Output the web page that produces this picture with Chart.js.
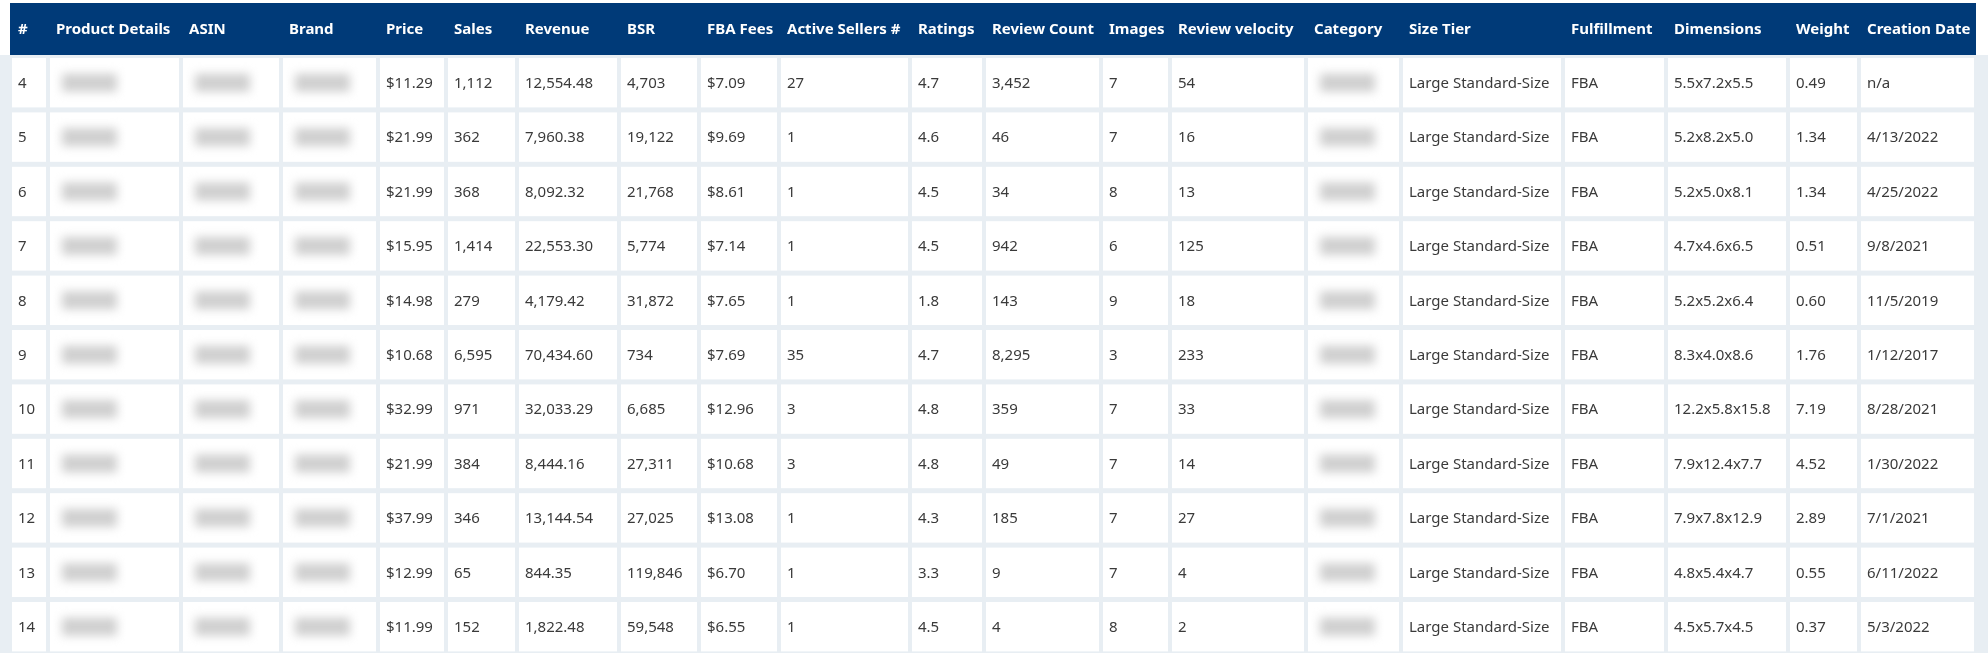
<!DOCTYPE html>
<html><head><meta charset="utf-8">
<script src="https://cdn.jsdelivr.net/npm/chart.js@4"></script>
<style>body{margin:0;background:#fff}canvas{display:block}</style>
</head><body><canvas id="c" width="1988" height="653"></canvas>
<script>
const headers = ['#','Product Details','ASIN','Brand','Price','Sales','Revenue','BSR','FBA Fees','Active Sellers #','Ratings','Review Count','Images','Review velocity','Category','Size Tier','Fulfillment','Dimensions','Weight','Creation Date'];
const rowIds = ['4','5','6','7','8','9','10','11','12','13','14'];
const prices = ['$11.29','$21.99','$21.99','$15.95','$14.98','$10.68','$32.99','$21.99','$37.99','$12.99','$11.99'];
const sales = ['1,112','362','368','1,414','279','6,595','971','384','346','65','152'];
const revenue = ['12,554.48','7,960.38','8,092.32','22,553.30','4,179.42','70,434.60','32,033.29','8,444.16','13,144.54','844.35','1,822.48'];
const bsr = ['4,703','19,122','21,768','5,774','31,872','734','6,685','27,311','27,025','119,846','59,548'];
const fbaFees = ['$7.09','$9.69','$8.61','$7.14','$7.65','$7.69','$12.96','$10.68','$13.08','$6.70','$6.55'];
const sellers = ['27','1','1','1','1','35','3','3','1','1','1'];
const ratings = ['4.7','4.6','4.5','4.5','1.8','4.7','4.8','4.8','4.3','3.3','4.5'];
const reviewCount = ['3,452','46','34','942','143','8,295','359','49','185','9','4'];
const images = ['7','7','8','6','9','3','7','7','7','7','8'];
const reviewVelocity = ['54','16','13','125','18','233','33','14','27','4','2'];
const sizeTier = Array(11).fill('Large Standard-Size');
const fulfillment = Array(11).fill('FBA');
const dimensions = ['5.5x7.2x5.5','5.2x8.2x5.0','5.2x5.0x8.1','4.7x4.6x6.5','5.2x5.2x6.4','8.3x4.0x8.6','12.2x5.8x15.8','7.9x12.4x7.7','7.9x7.8x12.9','4.8x5.4x4.7','4.5x5.7x4.5'];
const weight = ['0.49','1.34','1.34','0.51','0.60','1.76','7.19','4.52','2.89','0.55','0.37'];
const creationDate = ['n/a','4/13/2022','4/25/2022','9/8/2021','11/5/2019','1/12/2017','8/28/2021','1/30/2022','7/1/2021','6/11/2022','5/3/2022'];
const blurred = null; // hidden columns: product, ASIN, brand, category
const columns = [rowIds, blurred, blurred, blurred, prices, sales, revenue, bsr, fbaFees, sellers, ratings, reviewCount, images, reviewVelocity, blurred, sizeTier, fulfillment, dimensions, weight, creationDate];

// layout (x in page px, y in page px)
const colEdges = [10,48,181,281,378,446,517,619,699,779,910,984,1101,1170,1306,1401,1563,1666,1788,1859,1976];
const headTop = 3, headBottom = 55, rowH = 54.4;

const tablePlugin = {
  id: 'table',
  afterDraw(chart) {
    const ctx = chart.ctx, xs = chart.scales.x, ys = chart.scales.y;
    const X = v => xs.getPixelForValue(v), Y = v => ys.getPixelForValue(v);
    ctx.save();
    ctx.fillStyle = '#e8eef3';
    ctx.fillRect(X(0), Y(headBottom), X(1988) - X(0), Y(653) - Y(headBottom));
    ctx.fillStyle = '#003a78';
    ctx.fillRect(X(colEdges[0]), Y(headTop), X(1976) - X(colEdges[0]), Y(headBottom) - Y(headTop));
    ctx.font = 'bold 15px "Noto Sans"';
    ctx.fillStyle = '#fff';
    ctx.textBaseline = 'middle';
    headers.forEach((h, i) => ctx.fillText(h, X(colEdges[i]) + 8, Y((headTop + headBottom) / 2) + 1, X(colEdges[i + 1]) - X(colEdges[i]) - 10));
    ctx.font = '15px "Noto Sans"';
    rowIds.forEach((_, r) => {
      const top = headBottom + r * rowH;
      columns.forEach((col, c) => {
        const x0 = X(colEdges[c]) + 2, x1 = X(colEdges[c + 1]) - 2;
        const y0 = Y(top) + 3, y1 = Y(top + rowH) - 2;
        ctx.fillStyle = '#fff';
        ctx.fillRect(x0, y0, x1 - x0, y1 - y0);
        const cy = (y0 + y1) / 2;
        if (col) {
          ctx.fillStyle = '#3a3a3a';
          ctx.fillText(col[r], x0 + 6, cy + 1);
        } else {
          ctx.save();
          ctx.filter = 'blur(5px)';
          ctx.fillStyle = '#d0d0d0';
          ctx.fillRect(x0 + 12, cy - 9, Math.min(55, x1 - x0 - 24), 18);
          ctx.restore();
        }
      });
    });
    ctx.restore();
  }
};

new Chart(document.getElementById('c'), {
  type: 'scatter',
  data: { datasets: [{ data: [] }] },
  options: {
    responsive: false, animation: false, devicePixelRatio: 1,
    layout: { padding: 0 },
    plugins: { legend: { display: false }, tooltip: { enabled: false } },
    scales: {
      x: { type: 'linear', min: 0, max: 1988, display: false },
      y: { type: 'linear', min: 0, max: 653, reverse: true, display: false }
    }
  },
  plugins: [tablePlugin]
});
</script></body></html>
